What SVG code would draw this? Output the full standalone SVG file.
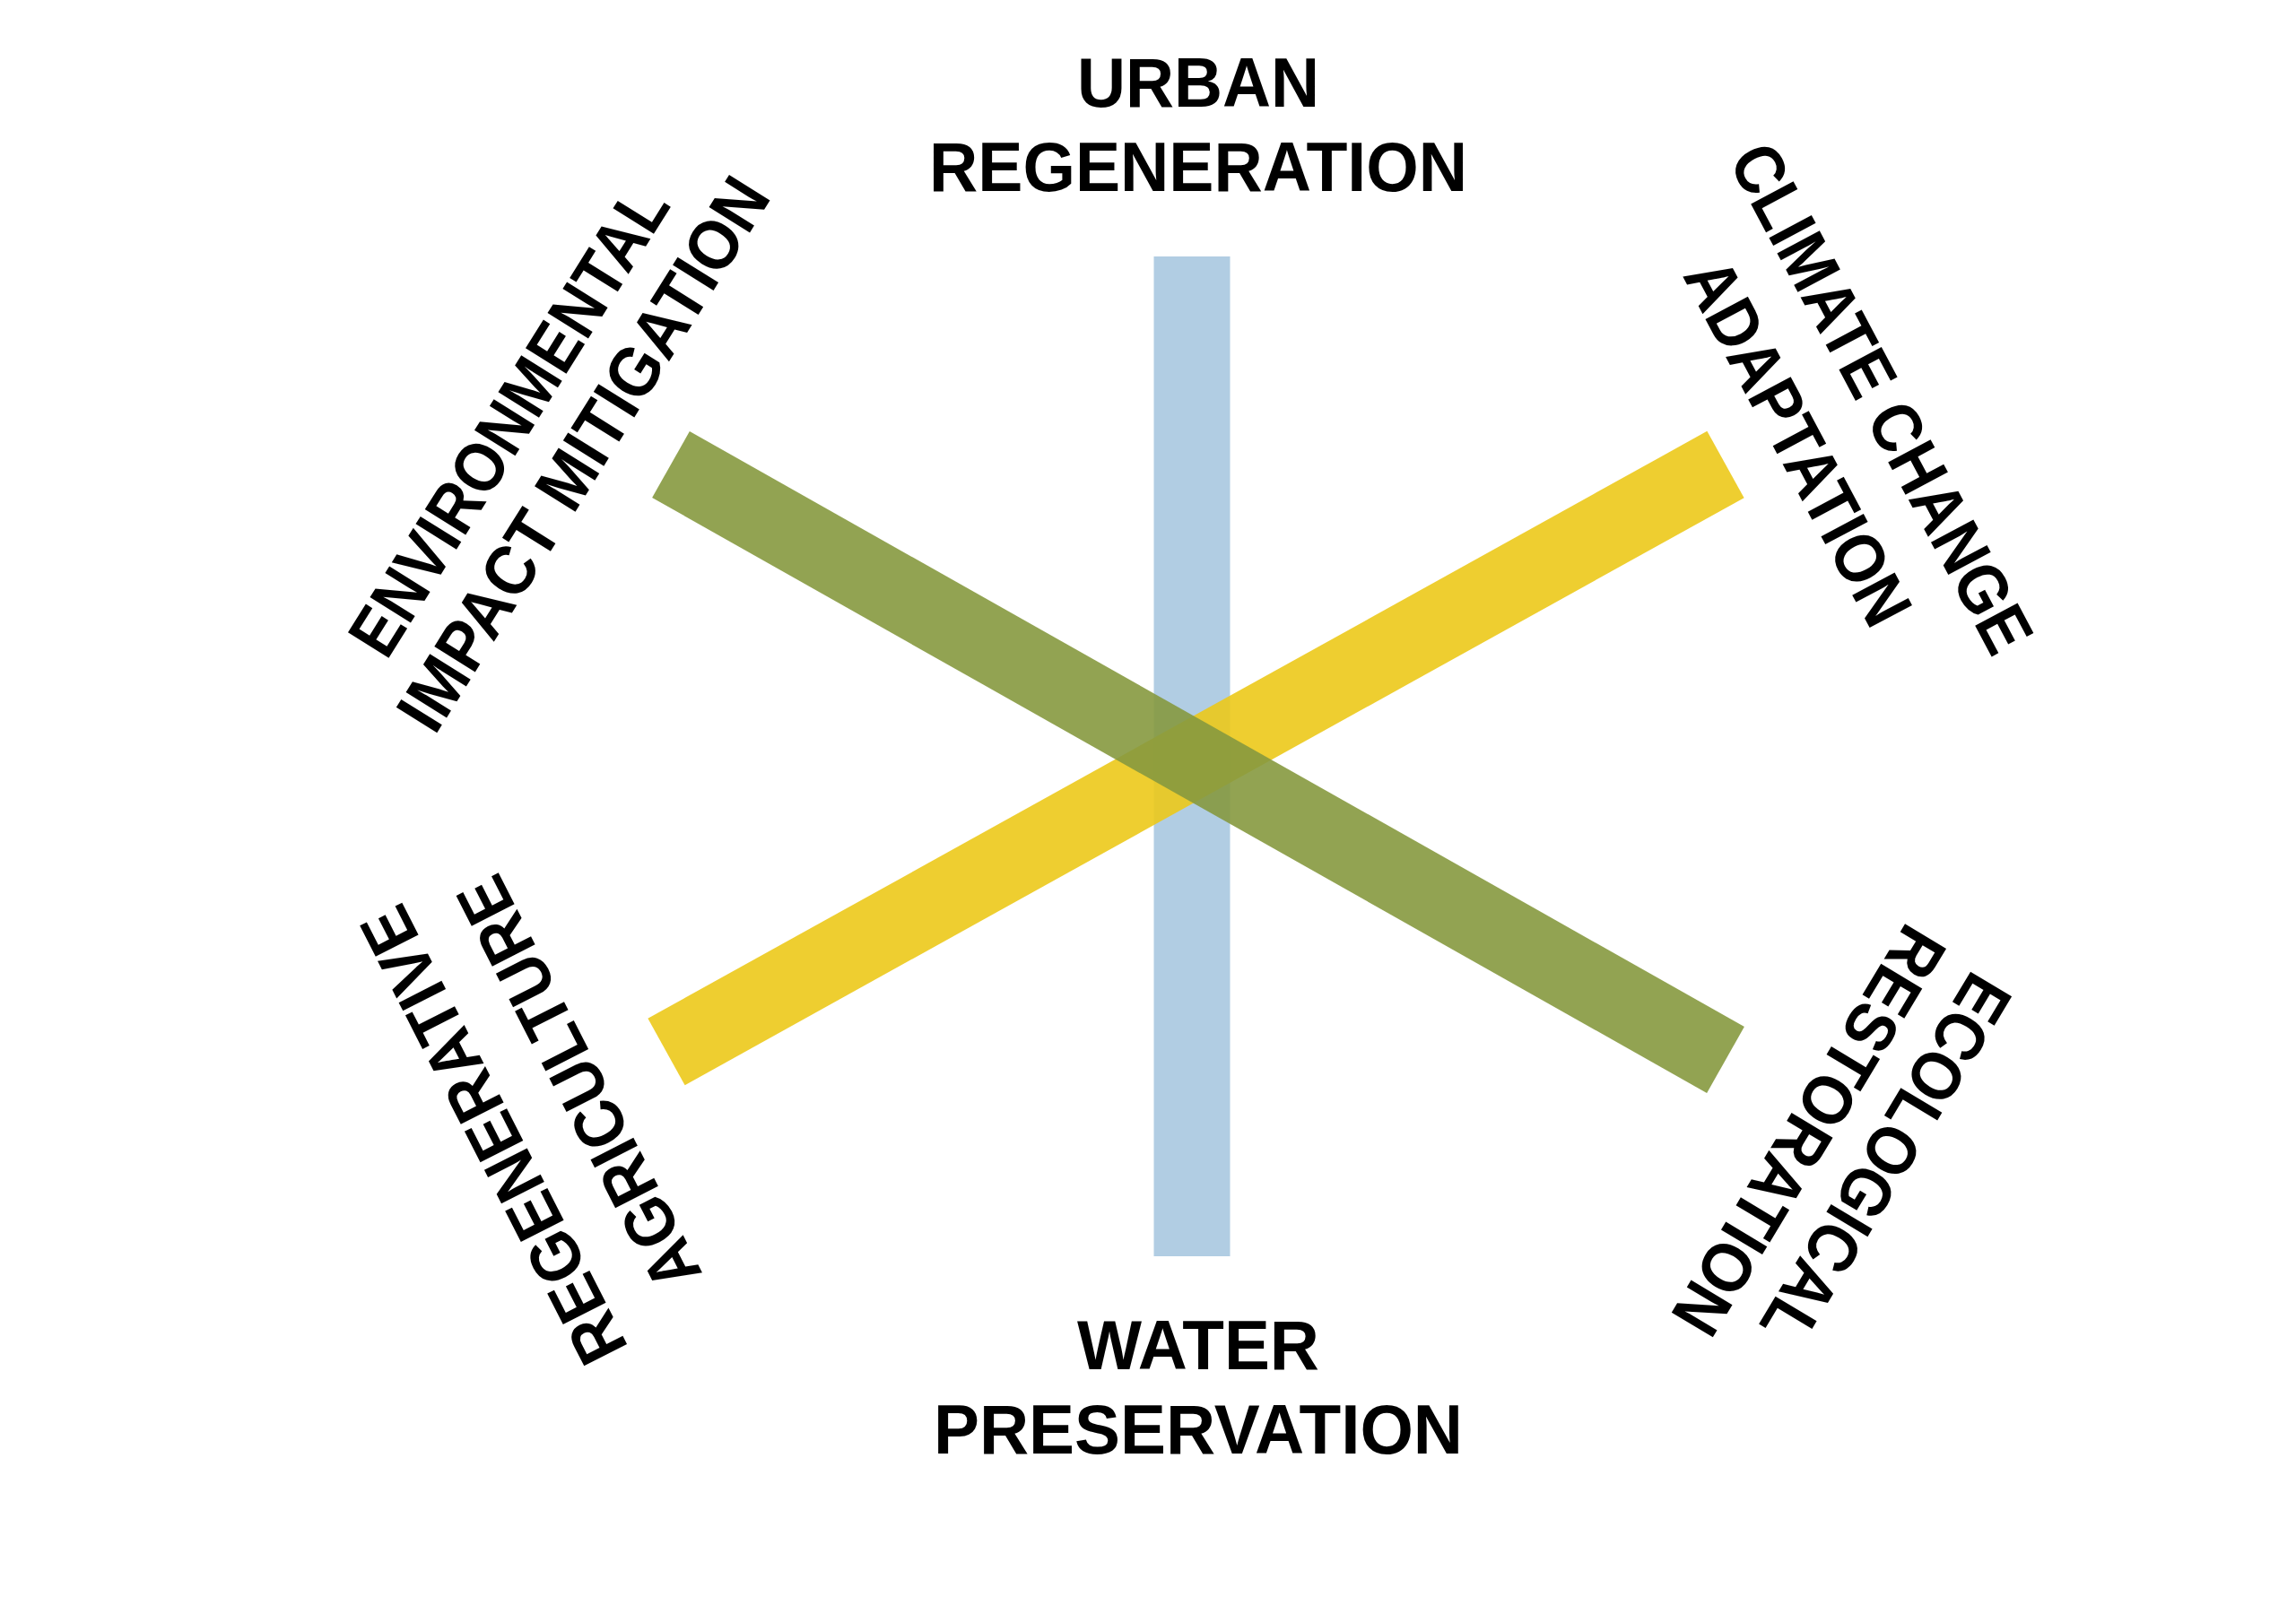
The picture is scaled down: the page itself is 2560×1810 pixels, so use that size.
<svg xmlns="http://www.w3.org/2000/svg" width="2560" height="1810" viewBox="0 0 2560 1810">
<style>
text{font-family:"Liberation Sans",Arial,sans-serif;font-weight:bold;font-size:78px;fill:#000;text-anchor:middle;dominant-baseline:central}
.bar{fill:none;stroke-width:85;stroke-linecap:butt}
</style>
<rect width="2560" height="1810" fill="#fff"/>
<g id="connectors">
<line class="bar" x1="1329" y1="286" x2="1329" y2="1401" stroke="#a9c8e0" stroke-opacity="0.9"/>
<line class="bar" x1="743" y1="1173" x2="1924" y2="518" stroke="#ecc919" stroke-opacity="0.9"/>
<line class="bar" x1="748" y1="518" x2="1924" y2="1182" stroke="#86993f" stroke-opacity="0.9"/>
</g>
<g id="urban"><text x="1336" y="92" textLength="270" lengthAdjust="spacingAndGlyphs">URBAN</text><text x="1336" y="186" textLength="600" lengthAdjust="spacingAndGlyphs">REGENERATION</text></g>
<g id="water"><text x="1336" y="1500" textLength="270" lengthAdjust="spacingAndGlyphs">WATER</text><text x="1336" y="1594" textLength="590" lengthAdjust="spacingAndGlyphs">PRESERVATION</text></g>
<g id="environmental">
<text transform="translate(567,469) rotate(-58)" textLength="600" lengthAdjust="spacingAndGlyphs">ENVIRONMENTAL</text>
<text transform="translate(650,506) rotate(-58)" textLength="710" lengthAdjust="spacingAndGlyphs">IMPACT MITIGATION</text>
</g>
<g id="climate">
<text transform="translate(2098,444) rotate(62)" textLength="630" lengthAdjust="spacingAndGlyphs">CLIMATE CHANGE</text>
<text transform="translate(2005,493) rotate(62)" textLength="450" lengthAdjust="spacingAndGlyphs">ADAPTATION</text>
</g>
<g id="regenerative">
<text transform="translate(550,1266) rotate(243)" textLength="560" lengthAdjust="spacingAndGlyphs">REGENERATIVE</text>
<text transform="translate(645,1208) rotate(243)" textLength="505" lengthAdjust="spacingAndGlyphs">AGRICULTURE</text>
</g>
<g id="ecological">
<text transform="translate(2103,1293) rotate(121)" textLength="465" lengthAdjust="spacingAndGlyphs">ECOLOGICAL</text>
<text transform="translate(2017,1261) rotate(121)" textLength="515" lengthAdjust="spacingAndGlyphs">RESTORATION</text>
</g>
</svg>
